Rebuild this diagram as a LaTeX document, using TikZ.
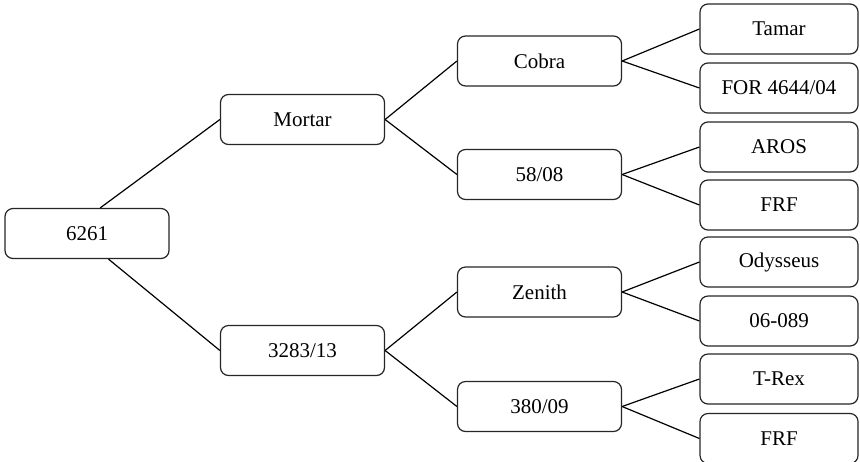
\documentclass[tikz,border=0pt]{standalone}
\usepackage{fontspec}
\setmainfont{Liberation Serif}
\usetikzlibrary{calc}
\begin{document}
\begin{tikzpicture}[x=0.5pt,y=-0.5pt,
  box/.style={draw=black!85, line width=0.6pt, rounded corners=4pt, fill=white,
    minimum width=82pt, minimum height=25pt, inner sep=0pt,
    font=\fontsize{10.5}{12}\selectfont},
  leaf/.style={box, minimum width=79pt},
  link/.style={draw=black, line width=0.6pt}]
\useasboundingbox (0,0) rectangle (860,461);
\clip (0,0) rectangle (860,461);
% nodes
\node[box] (r) at (87,233.5) {6261};
\node[box] (m) at (302.5,119.5) {Mortar};
\node[box] (t) at (302.5,350.5) {3283/13};
\node[box] (cobra) at (539.5,61) {Cobra};
\node[box] (c58) at (539.5,174.5) {58/08};
\node[box] (zen) at (539.5,292) {Zenith};
\node[box] (c380) at (539.5,406.5) {380/09};
\node[leaf] (tamar) at (779,29) {Tamar};
\node[leaf] (for) at (779,88) {FOR 4644/04};
\node[leaf] (aros) at (779,147) {AROS};
\node[leaf] (frf1) at (779,205) {FRF};
\node[leaf] (ody) at (779,262) {Odysseus};
\node[leaf] (z06) at (779,321) {06-089};
\node[leaf] (trex) at (779,379) {T-Rex};
\node[leaf] (frf2) at (779,438.5) {FRF};
% connectors
\coordinate (rt) at ($(r.north west)!0.58!(r.north east)$);
\coordinate (rb) at ($(r.south west)!0.63!(r.south east)$);
\draw[link] (rt) -- (m.west);
\draw[link] (rb) -- (t.west);
\draw[link] (m.east) -- (cobra.west);
\draw[link] (m.east) -- (c58.west);
\draw[link] (t.east) -- (zen.west);
\draw[link] (t.east) -- (c380.west);
\draw[link] (cobra.east) -- (tamar.west);
\draw[link] (cobra.east) -- (for.west);
\draw[link] (c58.east) -- (aros.west);
\draw[link] (c58.east) -- (frf1.west);
\draw[link] (zen.east) -- (ody.west);
\draw[link] (zen.east) -- (z06.west);
\draw[link] (c380.east) -- (trex.west);
\draw[link] (c380.east) -- (frf2.west);
\end{tikzpicture}
\end{document}
